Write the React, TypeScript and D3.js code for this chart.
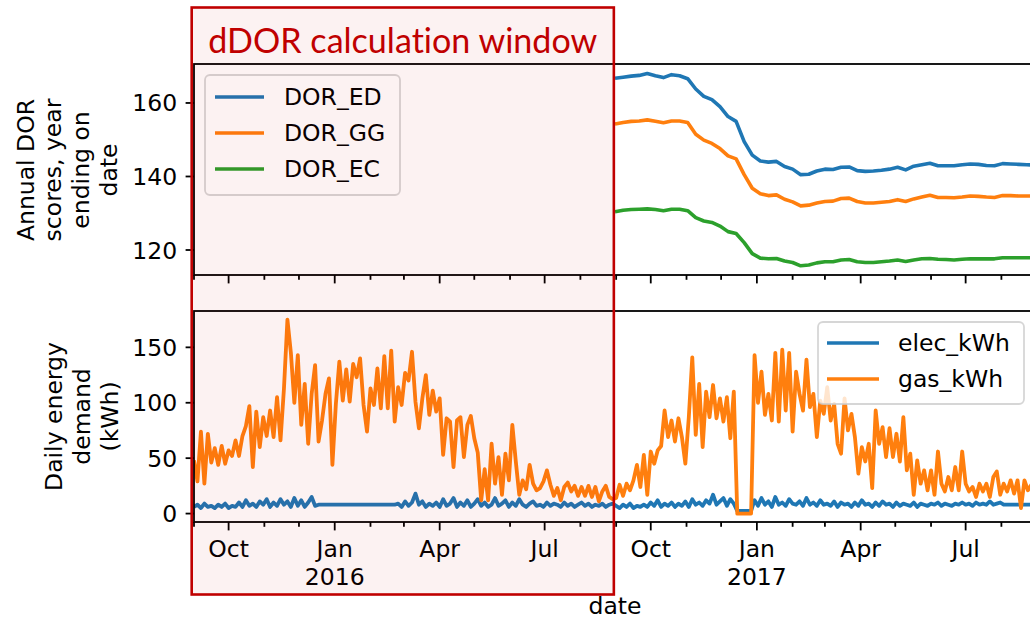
import React from 'react';
import * as d3 from 'd3';

// ---------- data ----------
const seriesStart = new Date(2015, 8, 1);
const seriesEnd = new Date(2017, 7, 31);
const dorStart = new Date(2016, 7, 31);
const windowDates = [new Date(2015, 7, 30), new Date(2016, 7, 30)];
const windowTitle = 'dDOR calculation window';

const dorNames = ['DOR_ED', 'DOR_GG', 'DOR_EC'];
const dailyNames = ['elec_kWh', 'gas_kWh'];
const topTicks = [120, 140, 160];
const bottomTicks = [0, 50, 100, 150];
const topLabel = ['Annual DOR', 'scores, year', 'ending on', 'date'];
const bottomLabel = ['Daily energy', 'demand', '(kWh)'];
const xLabel = 'date';

// weekly samples from 2016-08-31
const dorED = [
  166.7, 167.0, 167.3, 167.5, 168.0, 167.4, 166.9, 167.7, 167.4, 166.6,
  163.8, 161.8, 160.9, 159.0, 156.3, 155.0, 149.5, 145.8, 144.2, 143.9,
  144.1, 142.7, 142.0, 140.5, 140.6, 141.5, 142.0, 141.9, 142.5, 142.6,
  141.6, 141.4, 141.5, 141.7, 142.0, 142.5, 141.8, 142.8, 143.2, 143.6,
  142.9, 142.9, 142.9, 143.2, 143.4, 143.3, 143.0, 142.9, 143.5, 143.4,
  143.3, 143.2, 143.1,
];
const dorGG = [
  154.3, 154.7, 155.0, 155.1, 155.4, 155.0, 154.6, 155.1, 155.1, 154.7,
  151.5, 149.9, 149.0, 147.6, 145.6, 144.8, 140.5, 136.8, 135.3, 134.8,
  135.0, 133.8, 133.1, 132.0, 132.2, 132.8, 133.2, 133.3, 134.0, 134.1,
  133.2, 132.8, 132.8, 133.0, 133.2, 133.7, 133.2, 133.9, 134.4, 134.9,
  134.3, 134.3, 134.2, 134.4, 134.7, 134.6, 134.4, 134.3, 134.8, 134.8,
  134.7, 134.7, 134.7,
];
const dorEC = [
  130.4, 130.8, 131.0, 131.1, 131.2, 131.0, 130.7, 131.1, 131.1, 130.7,
  128.8, 127.9, 127.5, 126.5, 125.0, 124.5, 122.0, 119.0, 117.8, 117.6,
  117.7, 117.0, 116.6, 115.7, 115.9, 116.5, 116.8, 116.8, 117.3, 117.4,
  116.8, 116.6, 116.6, 116.8, 117.0, 117.3, 116.9, 117.3, 117.6, 117.7,
  117.5, 117.4, 117.3, 117.5, 117.6, 117.6, 117.6, 117.6, 117.9, 117.9,
  117.9, 117.9, 117.9,
];

// samples every 3 days from 2015-09-01
const gasKWh = [
  48, 29, 74, 27, 72, 46, 59, 44, 61, 45,
  57, 52, 66, 52, 70, 79, 97, 42, 92, 60,
  87, 70, 93, 69, 105, 66, 113, 175, 145, 100,
  143, 80, 117, 63, 108, 134, 65, 84, 108, 122,
  44, 99, 137, 102, 130, 101, 135, 123, 140, 98,
  74, 113, 98, 131, 95, 142, 95, 147, 83, 114,
  98, 127,
  120, 146, 101, 77, 104, 125, 89, 111, 92, 104,
  53, 86, 83, 42, 84, 87, 51, 80, 88, 68,
  55, 12, 40, 12, 63, 27, 51, 17, 54, 30,
  80, 47, 17, 30, 22, 44, 27, 21, 23, 29,
  39, 26, 16, 23, 12, 24, 28, 20, 25, 16,
  24, 16, 25, 15, 24, 11, 20, 25, 15, 13,
  14, 26, 16, 27, 21, 30, 44, 24, 53, 17,
  56, 45, 57, 61, 93, 69, 84, 65, 86, 69,
  45, 87, 141, 71, 117, 60, 110, 87, 116, 86,
  104, 83, 105, 68, 110, 0, 0, 0, 0, 0,
  143, 100, 128, 89, 108, 84, 145, 83, 148, 93,
  145, 74, 128, 108, 93, 139, 96, 108, 69, 102,
  90,
  114, 84, 99, 63, 54, 104, 75, 90, 69, 36,
  60, 47, 63, 23, 93, 63, 78, 51, 77, 51,
  72, 47, 87, 39, 54, 17, 48, 27, 39, 21,
  39, 17, 56, 27, 20, 33, 21, 42, 21, 56,
  27, 20, 24, 15, 27, 20, 27, 15, 33, 38,
  17, 27, 20, 30, 18, 30, 5, 30, 21, 26,
  18,
];
const elecKWh = [
  6, 8, 5, 9, 6, 7, 5, 8, 6, 9, 5, 7, 6, 10, 6, 12, 7, 9, 6, 11,
  8, 13, 6, 10, 7, 13, 8, 11, 6, 14, 7, 12, 6, 10, 15, 7, 8,
  8, 8, 8, 8, 8, 8, 8, 8, 8, 8, 8, 8, 8, 8, 8, 8, 8, 8, 8, 8, 8, 8,
  9, 6, 11, 7, 10, 18, 8, 11, 6, 9, 7, 10, 6, 13, 7, 9, 14, 6, 10, 7,
  12, 6, 9, 13, 7, 10, 6, 8, 14, 7, 9, 12, 6, 10, 7, 13, 8, 6, 9, 11,
  7, 8, 6, 10, 7, 9, 8, 6, 10, 7, 9, 6, 8, 10, 7, 9, 6, 8, 7, 9,
  6, 8, 9,
  7, 5, 8, 6, 9, 5, 7, 6, 8, 6, 10, 7, 12, 6, 9, 7, 10, 6, 9, 7,
  11, 6, 13, 8, 10, 7, 12, 9, 17, 8, 11, 14, 7, 13, 9,
  2.5, 2.5, 2.5, 2.5, 2.5,
  12, 7, 14, 8, 11, 6, 15, 8, 10, 7, 13, 9, 8, 11, 7, 14, 8, 10, 7, 12,
  8, 9, 7, 11, 6, 10, 8, 9, 6, 10, 7, 12, 8, 9, 6, 10, 7, 11, 8, 9,
  6, 10, 7, 9, 8, 7, 10, 6, 9, 8, 7, 9, 8, 10, 7, 9, 8, 7, 9, 8,
  10, 8, 9, 7, 10, 8, 9, 8, 11, 8, 9, 10, 8, 8, 8, 8, 8, 8, 8, 8,
  8, 8,
];

const dorDates = dorED.map((_, i) => d3.timeDay.offset(dorStart, 7 * i));
const dailyDates = gasKWh.map((_, i) => d3.timeDay.offset(seriesStart, 3 * i));

const C_BLUE = '#1f77b4';
const C_ORANGE = '#ff7f0e';
const C_GREEN = '#2ca02c';
const C_RED = '#c00000';
const FONT = '"DejaVu Sans", sans-serif';
const FS = 23.5;

const W = 1030;
const H = 620;
const L = 194;
const R = 1036;
const TOP = { t: 64, b: 275 };
const BOT = { t: 311, b: 522 };

export default function App() {
  const x = d3.scaleTime().domain([seriesStart, seriesEnd]).range([L, R]);
  const yTop = d3.scaleLinear().domain([113.2, 170.6]).range([TOP.b, TOP.t]);
  const yBot = d3.scaleLinear().domain([-7.6, 182.8]).range([BOT.b, BOT.t]);

  const mkLine = (dates: Date[], y: d3.ScaleLinear<number, number>) =>
    d3.line<number>().x((_, i) => x(dates[i])).y((d) => y(d));

  const dorLine = mkLine(dorDates, yTop);
  const dayLine = mkLine(dailyDates, yBot);

  const months = d3.timeMonth.range(seriesStart, d3.timeDay.offset(seriesEnd, 1));
  const major = months.filter((m) => m.getMonth() % 3 === 0);
  const fmt = d3.timeFormat('%b');

  const xTicks = (yAxis: number, labels: boolean) => (
    <g>
      {months.map((m, i) => (
        <line key={'m' + i} x1={x(m)} x2={x(m)} y1={yAxis} y2={yAxis + (m.getMonth() % 3 === 0 ? 8.4 : 4.8)} stroke="#000" strokeWidth={1.8} />
      ))}
      {labels &&
        major.map((m, i) => (
          <g key={'l' + i}>
            <text x={x(m)} y={557} textAnchor="middle" fontFamily={FONT} fontSize={FS} fill="#000">
              {fmt(m)}
            </text>
            {m.getMonth() === 0 && (
              <text x={x(m)} y={585} textAnchor="middle" fontFamily={FONT} fontSize={FS} fill="#000">
                {m.getFullYear()}
              </text>
            )}
          </g>
        ))}
    </g>
  );

  const yTicks = (ticks: number[], y: d3.ScaleLinear<number, number>) => (
    <g>
      {ticks.map((t) => (
        <g key={t}>
          <line x1={L - 8.4} x2={L} y1={y(t)} y2={y(t)} stroke="#000" strokeWidth={1.8} />
          <text x={L - 16.8} y={y(t) + 8.5} textAnchor="end" fontFamily={FONT} fontSize={FS} fill="#000">
            {t}
          </text>
        </g>
      ))}
    </g>
  );

  const yLabel = (lines: string[], cy: number, baselines: number[]) => (
    <g>
      {lines.map((s, i) => (
        <text key={i} transform={`translate(${baselines[i]},${cy}) rotate(-90)`} textAnchor="middle" fontFamily={FONT} fontSize={FS} fill="#000">
          {s}
        </text>
      ))}
    </g>
  );

  const legend = (
    bx: number, by: number, bw: number, bh: number,
    items: { name: string; color: string }[], rows: number[],
    lx1: number, lx2: number, tx: number
  ) => (
    <g>
      <rect x={bx} y={by} width={bw} height={bh} rx={5} ry={5} fill="#fff" fillOpacity={0.8} stroke="#cccccc" strokeOpacity={0.8} strokeWidth={1.8} />
      {items.map((it, i) => (
        <g key={it.name}>
          <line x1={lx1} x2={lx2} y1={rows[i]} y2={rows[i]} stroke={it.color} strokeWidth={3.6} />
          <text x={tx} y={rows[i] + 8.4} fontFamily={FONT} fontSize={FS} fill="#000">
            {it.name}
          </text>
        </g>
      ))}
    </g>
  );

  const wx0 = x(windowDates[0]);
  const wx1 = x(windowDates[1]);

  return (
    <svg width={W} height={H} style={{ position: 'absolute', left: 0, top: 0, background: '#fff' }}>
      <defs>
        <clipPath id="clipTop">
          <rect x={L} y={TOP.t} width={R - L} height={TOP.b - TOP.t} />
        </clipPath>
        <clipPath id="clipBot">
          <rect x={L} y={BOT.t} width={R - L} height={BOT.b - BOT.t} />
        </clipPath>
      </defs>
      <rect x={0} y={0} width={W} height={H} fill="#fff" />

      {/* top panel */}
      <g clipPath="url(#clipTop)" fill="none" strokeWidth={3.6} strokeLinejoin="round">
        <path d={dorLine(dorED) || ''} stroke={C_BLUE} />
        <path d={dorLine(dorGG) || ''} stroke={C_ORANGE} />
        <path d={dorLine(dorEC) || ''} stroke={C_GREEN} />
      </g>
      <rect x={L} y={TOP.t} width={R - L} height={TOP.b - TOP.t} fill="none" stroke="#000" strokeWidth={1.8} />
      {xTicks(TOP.b, false)}
      {yTicks(topTicks, yTop)}
      {yLabel(topLabel, 170, [33.6, 61.3, 89, 116.6])}
      {legend(205, 75, 195, 120, [
        { name: dorNames[0], color: C_BLUE },
        { name: dorNames[1], color: C_ORANGE },
        { name: dorNames[2], color: C_GREEN },
      ], [97, 133, 169], 215, 264, 284)}

      {/* bottom panel */}
      <g clipPath="url(#clipBot)" fill="none" strokeWidth={3.8} strokeLinejoin="round">
        <path d={dayLine(elecKWh) || ''} stroke={C_BLUE} />
        <path d={dayLine(gasKWh) || ''} stroke={C_ORANGE} />
      </g>
      <rect x={L} y={BOT.t} width={R - L} height={BOT.b - BOT.t} fill="none" stroke="#000" strokeWidth={1.8} />
      {xTicks(BOT.b, true)}
      {yTicks(bottomTicks, yBot)}
      {yLabel(bottomLabel, 416.5, [62.3, 90, 117.7])}
      {legend(818, 322, 206, 82, [
        { name: dailyNames[0], color: C_BLUE },
        { name: dailyNames[1], color: C_ORANGE },
      ], [343, 379], 827, 879, 898)}

      <text x={(L + R) / 2} y={614} textAnchor="middle" fontFamily={FONT} fontSize={FS} fill="#000">
        {xLabel}
      </text>

      {/* calculation window overlay */}
      <rect x={wx0} y={7.5} width={wx1 - wx0} height={587} fill={C_RED} fillOpacity={0.05} stroke={C_RED} strokeWidth={2.6} />
      <text x={(wx0 + wx1) / 2} y={52.5} textAnchor="middle" fontFamily="Lato, 'Open Sans', sans-serif" fontSize={34} fill={C_RED} textLength={389} lengthAdjust="spacingAndGlyphs" style={{ fontVariantLigatures: 'none' }}>
        {windowTitle}
      </text>
    </svg>
  );
}
